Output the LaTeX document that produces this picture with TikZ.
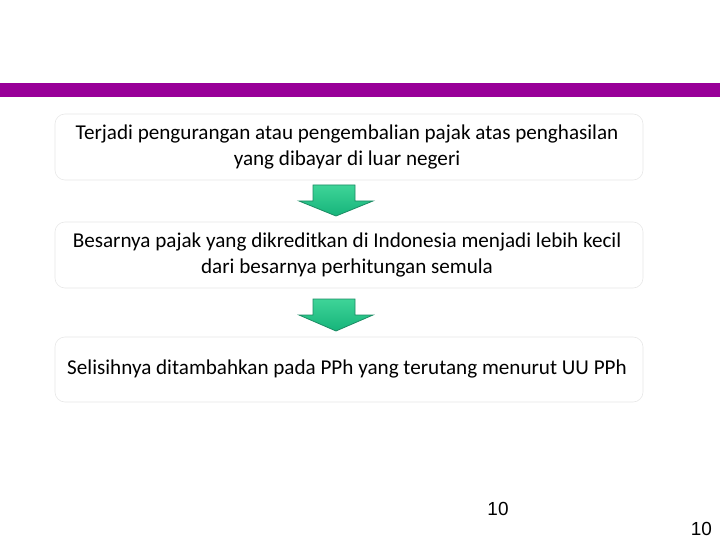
\documentclass[tikz,border=0pt]{standalone}
\usepackage{fontspec}
\setmainfont{Carlito}
\newfontfamily\arialf{Liberation Sans}
\definecolor{arrtop}{RGB}{62,212,152}
\definecolor{arrbot}{RGB}{22,180,122}
\definecolor{arrline}{RGB}{28,140,100}
\definecolor{barpurple}{RGB}{153,0,153}
\begin{document}
\begin{tikzpicture}[x=1bp,y=-1bp,
  stepbox/.style={draw=black!9, line width=0.6bp, fill=white, rounded corners=10bp},
  boxtext/.style={align=center, font=\fontsize{21.2}{25.5}\selectfont, inner sep=0pt},
  downarrow/.style={draw=arrline, line width=0.8bp, top color=arrtop, bottom color=arrbot, shading angle=0},
  pagenum/.style={font=\arialf\fontsize{19}{22}\selectfont, inner sep=0pt}]
\useasboundingbox (0,0) rectangle (720,540);
\fill[white] (0,0) rectangle (720,540);
% purple bar
\fill[barpurple] (0,83) rectangle (720,97);
% boxes
\draw[stepbox] (55,114) rectangle (643,180);
\draw[stepbox] (55,222) rectangle (643,288);
\draw[stepbox] (55,337) rectangle (643,402);
\node[boxtext] (t1) at (347,147) {Terjadi pengurangan atau pengembalian pajak atas penghasilan\\yang dibayar di luar negeri};
\node[boxtext] (t2) at (347,255) {Besarnya pajak yang dikreditkan di Indonesia menjadi lebih kecil\\dari besarnya perhitungan semula};
\node[boxtext] (t3) at (347,369) {Selisihnya ditambahkan pada PPh yang terutang menurut UU PPh};
% arrows
\shadedraw[downarrow] (313,185) -- (355,185) -- (355,201) -- (373,201) -- (336,216) -- (299,201) -- (313,201) -- cycle;
\shadedraw[downarrow] (313,299) -- (355,299) -- (355,315) -- (373,315) -- (336,331) -- (299,315) -- (313,315) -- cycle;
% page numbers
\node[pagenum, anchor=base] (n1) at (498,515) {10};
\node[pagenum, anchor=base east] (n2) at (712,535) {10};
\end{tikzpicture}
\end{document}
